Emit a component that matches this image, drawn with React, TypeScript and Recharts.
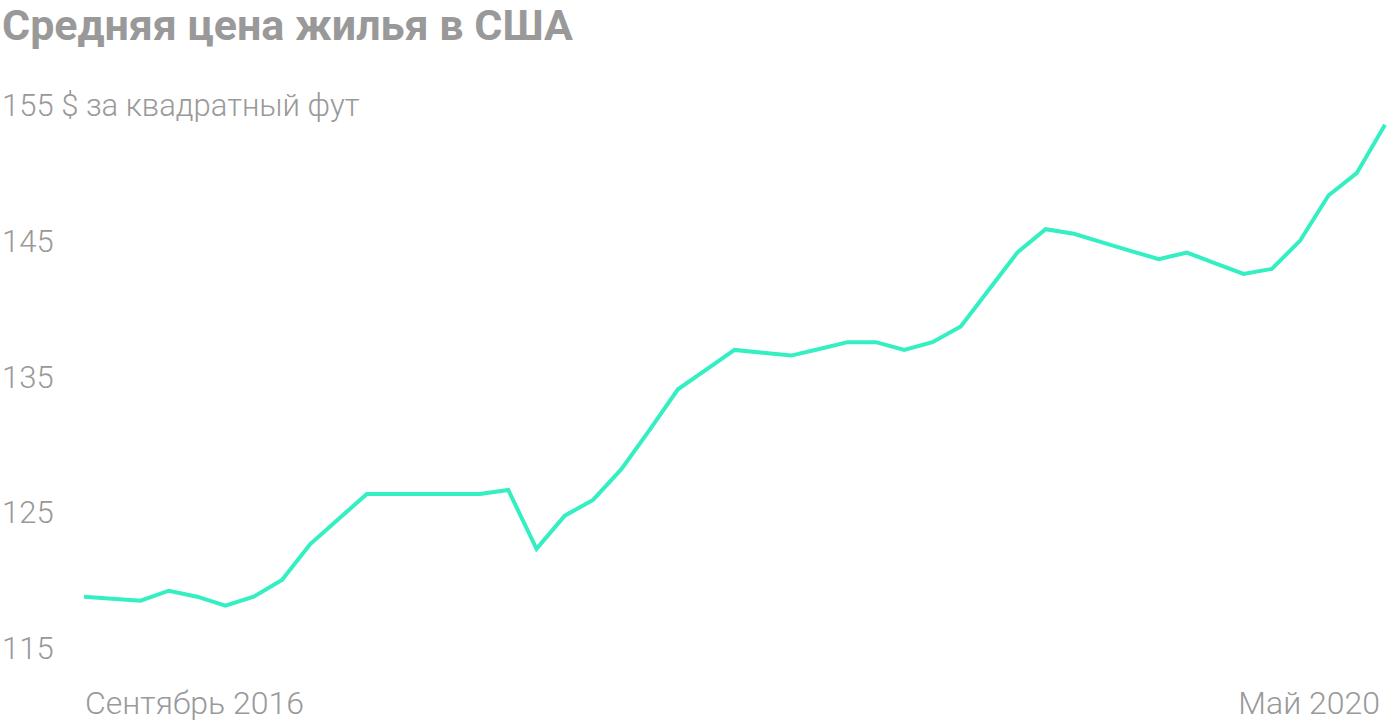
import React from "react";
import { LineChart, Line, XAxis, YAxis } from "recharts";

// Average US home price, $ per square foot (monthly)
const TITLE = "Средняя цена жилья в США";
const UNIT = "$ за квадратный фут";

const MONTHS = [
  "2016-07", "2016-08", "2016-09", "2016-10", "2016-11", "2016-12",
  "2017-01", "2017-02", "2017-03", "2017-04", "2017-05", "2017-06",
  "2017-07", "2017-08", "2017-09", "2017-10", "2017-11", "2017-12",
  "2018-01", "2018-02", "2018-03", "2018-04", "2018-05", "2018-06",
  "2018-07", "2018-08", "2018-09", "2018-10", "2018-11", "2018-12",
  "2019-01", "2019-02", "2019-03", "2019-04", "2019-05", "2019-06",
  "2019-07", "2019-08", "2019-09", "2019-10", "2019-11", "2019-12",
  "2020-01", "2020-02", "2020-03", "2020-04", "2020-05",
];

const PRICES = [
  118.78, 118.63, 118.49, 119.22, 118.78, 118.12, 118.78, 120.01, 122.66, 124.5,
  126.35, 126.35, 126.35, 126.35, 126.35, 126.64, 122.3, 124.75, 125.91, 128.17,
  131.07, 134.06, 135.51, 136.96, 136.75, 136.54, 137.03, 137.53, 137.53, 136.96,
  137.53, 138.68, 141.41, 144.13, 145.85, 145.51, 144.88, 144.26, 143.65, 144.13,
  143.34, 142.56, 142.93, 145.01, 148.33, 149.98, 153.54,
];

const Y_TICKS = [115, 125, 135, 145, 155];
const X_TICK_LABELS = ["Сентябрь 2016", "Май 2020"];

const data = MONTHS.map((m, i) => ({ month: m, price: PRICES[i] }));

const GRAY = "#999999";
const FONT = "Roboto, 'Noto Sans', sans-serif";

const YTick = (props: any) => {
  const { y, payload } = props;
  const top = payload.value === Y_TICKS[Y_TICKS.length - 1];
  return (
    <text x={2} y={y} dy={11} fill={GRAY} fontSize={31} fontFamily={FONT} fontWeight={300} textAnchor="start">
      {top ? `${payload.value} ${UNIT}` : payload.value}
    </text>
  );
};

const XTick = (props: any) => {
  const { x, payload } = props;
  const last = MONTHS.length - 1;
  if (payload.index !== 0 && payload.index !== last) return <g />;
  const first = payload.index === 0;
  return (
    <text
      x={first ? x + 1 : x - 5}
      y={714}
      fill={GRAY}
      fontSize={32}
      fontFamily={FONT}
      fontWeight={300}
      textAnchor={first ? "start" : "end"}
    >
      {first ? X_TICK_LABELS[0] : X_TICK_LABELS[1]}
    </text>
  );
};

export default function App() {
  return (
    <div style={{ position: "absolute", left: 0, top: 0, width: 1400, height: 726, background: "#fff" }}>
      <div
        style={{
          position: "absolute",
          left: 2,
          top: 1,
          fontFamily: FONT,
          fontWeight: 700,
          fontSize: 43,
          color: GRAY,
          lineHeight: "48px",
          whiteSpace: "nowrap",
        }}
      >
        {TITLE}
      </div>
      <LineChart width={1400} height={726} data={data} margin={{ top: 105, right: 15, bottom: 0, left: 0 }}>
        <XAxis
          dataKey="month"
          height={78}
          axisLine={false}
          tickLine={false}
          interval={0}
          tick={XTick}
        />
        <YAxis
          width={84}
          domain={[115, 155]}
          ticks={Y_TICKS}
          axisLine={false}
          tickLine={false}
          tick={YTick}
        />
        <Line
          type="linear"
          dataKey="price"
          stroke="#33efc2"
          strokeWidth={4}
          dot={false}
          isAnimationActive={false}
        />
      </LineChart>
    </div>
  );
}
